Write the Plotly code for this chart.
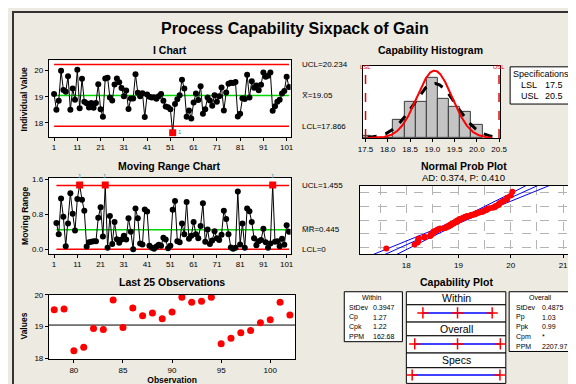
import math
from statistics import NormalDist
import plotly.graph_objects as go

# ---------------- data ----------------
gain = [19.10, 18.50, 18.84, 20.00, 19.26, 19.19, 19.78, 18.50, 19.31, 18.88,
        20.03, 18.56, 19.69, 18.81, 18.75, 18.59, 18.76, 18.58, 18.76, 19.48,
        18.52, 18.23, 19.70, 19.73, 18.97, 18.85, 19.47, 19.70, 19.55, 19.33,
        19.02, 19.24, 18.53, 18.93, 18.93, 19.86, 19.15, 19.02, 19.13, 18.22,
        19.08, 19.00, 18.97, 18.98, 18.92, 19.02, 19.10, 18.84, 18.62, 18.60,
        18.52, 17.62, 18.72, 18.90, 19.06, 19.65, 19.31, 18.23, 18.47, 18.16,
        18.78, 19.12, 18.87, 19.40, 18.35, 18.52, 18.97, 18.85, 18.65, 19.06,
        18.81, 19.02, 19.35, 18.47, 19.16, 19.50, 19.54, 19.53, 19.56, 18.24,
        18.35, 18.94, 18.91, 19.84, 18.97, 19.59, 19.34, 19.43, 19.25, 19.46,
        19.93, 19.77, 19.80, 19.93, 18.46, 18.63, 18.81, 18.88, 19.12, 19.22,
        19.77, 19.37]
ucl_i, cl_i, lcl_i = 20.234, 19.05, 17.866
ucl_mr, cl_mr, lcl_mr = 1.455, 0.445, 0.0
lsl, usl = 17.5, 20.5
mean_all = 19.05
sd_within, sd_overall = 0.3947, 0.4875
hist_centers = [17.5, 17.75, 18.0, 18.25, 18.5, 18.75, 19.0, 19.25, 19.5, 19.75, 20.0]
hist_counts = [1, 0, 0, 7, 14, 14, 23, 15, 12, 10, 5]
bin_width = 0.25
ad_text = "AD: 0.374, P: 0.410"
within_stats = [("StDev", "0.3947"), ("Cp", "1.27"), ("Cpk", "1.22"), ("PPM", "162.68")]
overall_stats = [("StDev", "0.4875"), ("Pp", "1.03"), ("Ppk", "0.99"), ("Cpm", "*"), ("PPM", "2207.97")]
i_ticks = [1, 11, 21, 31, 41, 51, 61, 71, 81, 91, 101]

# ---------------- derived ----------------
n = len(gain)
obs = list(range(1, n + 1))
mr = [abs(b - a) for a, b in zip(gain[:-1], gain[1:])]
mr_obs = obs[1:]
last_obs = obs[-25:]
last_vals = gain[-25:]

W, H = 576, 384
def px(x): return x / W
def py(y): return 1 - y / H

FONT = "Liberation Sans"
RED = "#FF0000"
GREEN = "#00D800"

fig = go.Figure()

# ---- I chart ----
fig.add_trace(go.Scatter(x=obs, y=gain, mode="lines+markers",
                         line=dict(color="black", width=1),
                         marker=dict(color="black", size=6),
                         xaxis="x", yaxis="y", showlegend=False))
ooc_i = [(o, v) for o, v in zip(obs, gain) if v > ucl_i or v < lcl_i]
fig.add_trace(go.Scatter(x=[o for o, _ in ooc_i], y=[v for _, v in ooc_i], mode="markers",
                         marker=dict(symbol="square", color=RED, size=7),
                         xaxis="x", yaxis="y", showlegend=False))

# ---- MR chart ----
fig.add_trace(go.Scatter(x=mr_obs, y=mr, mode="lines+markers",
                         line=dict(color="black", width=1),
                         marker=dict(color="black", size=6),
                         xaxis="x2", yaxis="y2", showlegend=False))
ooc_mr = [(o, v) for o, v in zip(mr_obs, mr) if v > ucl_mr]
fig.add_trace(go.Scatter(x=[o for o, _ in ooc_mr], y=[v for _, v in ooc_mr], mode="markers",
                         marker=dict(symbol="square", color=RED, size=7),
                         xaxis="x2", yaxis="y2", showlegend=False))

# ---- Last 25 ----
fig.add_trace(go.Scatter(x=last_obs, y=last_vals, mode="markers",
                         marker=dict(color=RED, size=7),
                         xaxis="x3", yaxis="y3", showlegend=False))

# ---- Histogram ----
fig.add_trace(go.Bar(x=hist_centers, y=hist_counts, width=bin_width,
                     marker=dict(color="#C4C4C4", line=dict(color="#3a3a3a", width=1)),
                     xaxis="x4", yaxis="y4", showlegend=False))
xs = [17.55 + k * 0.01 for k in range(0, 281)]
def npdf(x, m, s):
    return math.exp(-0.5 * ((x - m) / s) ** 2) / (s * math.sqrt(2 * math.pi))
fig.add_trace(go.Scatter(x=xs, y=[n * bin_width * npdf(x, mean_all, sd_overall) for x in xs],
                         mode="lines", line=dict(color="black", width=3, dash="dash"),
                         xaxis="x4", yaxis="y4", showlegend=False))
fig.add_trace(go.Scatter(x=xs, y=[n * bin_width * npdf(x, mean_all, sd_within) for x in xs],
                         mode="lines", line=dict(color=RED, width=2),
                         xaxis="x4", yaxis="y4", showlegend=False))

# ---- Normal probability plot ----
nd = NormalDist()
sorted_g = sorted(gain)
zs = [nd.inv_cdf((i + 1 - 0.3) / (n + 0.4)) for i in range(n)]
zgrid = [-3.2 + k * 0.05 for k in range(0, 129)]
mid = [mean_all + z * sd_overall for z in zgrid]
hw = [1.96 * sd_overall * math.sqrt(1.0 / n + z * z / (2.0 * n)) for z in zgrid]
for xline in ([m - h for m, h in zip(mid, hw)], mid, [m + h for m, h in zip(mid, hw)]):
    fig.add_trace(go.Scatter(x=xline, y=zgrid, mode="lines", line=dict(color="#0000FF", width=1),
                             xaxis="x5", yaxis="y5", showlegend=False))
fig.add_trace(go.Scatter(x=sorted_g, y=zs, mode="markers", marker=dict(color=RED, size=6),
                         xaxis="x5", yaxis="y5", showlegend=False))

# ---- Capability plot ----
cap_rows = [
    (3, [mean_all - 3 * sd_within, mean_all, mean_all + 3 * sd_within]),
    (2, [mean_all - 3 * sd_overall, mean_all, mean_all + 3 * sd_overall]),
    (1, [lsl, usl]),
]
for yv, xv in cap_rows:
    fig.add_trace(go.Scatter(x=[xv[0], xv[-1]], y=[yv, yv], mode="lines",
                             line=dict(color="#0000FF", width=1.5),
                             xaxis="x6", yaxis="y6", showlegend=False))
    fig.add_trace(go.Scatter(x=xv, y=[yv] * len(xv), mode="markers",
                             marker=dict(symbol="cross-thin", size=8, line=dict(color=RED, width=1.5)),
                             xaxis="x6", yaxis="y6", showlegend=False))

# ---------------- axes ----------------
base = dict(showline=True, mirror=True, linecolor="black", linewidth=1, ticks="outside",
            ticklen=3, tickcolor="black", tickfont=dict(family=FONT, size=8, color="black"),
            showgrid=False, zeroline=False)

layout_axes = dict(
    xaxis=dict(base, domain=[px(36.5), px(283.5)], range=[-1.3, 102.7], tickvals=i_ticks, anchor="y"),
    yaxis=dict(base, domain=[py(127.5), py(49.5)], range=[17.46, 20.39], tickvals=[18, 19, 20], anchor="x"),
    xaxis2=dict(base, domain=[px(36.5), px(283.5)], range=[-1.3, 102.7], tickvals=i_ticks, anchor="y2"),
    yaxis2=dict(base, domain=[py(246.7), py(169.7)], range=[-0.1, 1.625], tickvals=[0, 0.8, 1.6],
                ticktext=["0.0", "0.8", "1.6"], anchor="x2"),
    xaxis3=dict(base, domain=[px(36.7), px(288.3)], range=[77.46, 102.55], tickvals=[80, 85, 90, 95, 100],
                anchor="y3", title=dict(text="<b>Observation</b>", font=dict(family=FONT, size=8.5), standoff=2)),
    yaxis3=dict(base, domain=[py(354.3), py(289)], range=[17.98, 20.0], tickvals=[18, 19, 20], anchor="x3"),
    xaxis4=dict(base, domain=[px(357.3), px(497.3)], range=[17.44, 20.52],
                tickvals=[17.5, 18.0, 18.5, 19.0, 19.5, 20.0, 20.5],
                ticktext=["17.5", "18.0", "18.5", "19.0", "19.5", "20.0", "20.5"], anchor="y4"),
    yaxis4=dict(base, domain=[py(128.7), py(55)], range=[0, 27.6], ticks="", showticklabels=False, anchor="x4"),
    xaxis5=dict(base, domain=[px(354), px(567.7)], range=[17.11, 21.11], tickvals=[18, 19, 20, 21],
                showgrid=True, gridcolor="#B4B4B4", griddash="dash", gridwidth=1,
                minor=dict(tickvals=[17.5, 18.5, 19.5, 20.5], showgrid=True, gridcolor="#B4B4B4",
                           griddash="dash", ticks=""),
                anchor="y5"),
    yaxis5=dict(base, domain=[py(247.3), py(177.3)], range=[-2.96, 3.0], tickvals=[-2.4, -1.2, 0, 1.2, 2.4],
                ticks="", showticklabels=False, showgrid=True, gridcolor="#B4B4B4", griddash="dash",
                anchor="x5"),
    xaxis6=dict(domain=[px(401.7), px(503.3)], range=[17.3, 20.7], visible=False, anchor="y6"),
    yaxis6=dict(domain=[py(379.3), py(285.7)], range=[0.729, 3.682], visible=False, anchor="x6"),
)

# ---------------- shapes ----------------
shapes = []
def hline(xref, yref, x0, x1, y, color, width=1.5):
    shapes.append(dict(type="line", xref=xref, yref=yref, x0=x0, x1=x1, y0=y, y1=y,
                       line=dict(color=color, width=width), layer="below"))
hline("x", "y", 1, n, ucl_i, RED)
hline("x", "y", 1, n, lcl_i, RED)
hline("x", "y", 1, n, cl_i, GREEN)
hline("x2", "y2", 2, n, ucl_mr, RED)
hline("x2", "y2", 2, n, lcl_mr, RED)
hline("x2", "y2", 2, n, cl_mr, GREEN)
shapes.append(dict(type="line", xref="x3 domain", yref="y3", x0=0, x1=1, y0=cl_i, y1=cl_i,
                   line=dict(color="black", width=1), layer="below"))
for v in (lsl, usl):
    shapes.append(dict(type="line", xref="x4", yref="y4 domain", x0=v, x1=v, y0=0, y1=1,
                       line=dict(color="#E00000", width=1.5, dash="dash")))

def rect(x0, y0, x1, y1, width=1):
    shapes.append(dict(type="rect", xref="paper", yref="paper", x0=px(x0), x1=px(x1), y0=py(y1), y1=py(y0),
                       line=dict(color="black", width=width), fillcolor="white", layer="below"))
rect(507.7, 56, 570, 94)
rect(338.3, 285.7, 397.7, 336.7)
rect(506.7, 285.7, 570.7, 346.7)
cap_boxes = [285.7, 299, 316.7, 330.7, 348.3, 363.3, 379.3]
for a, b in zip(cap_boxes[:-1], cap_boxes[1:]):
    rect(401.7, a, 503.3, b)
shapes.append(dict(type="rect", xref="paper", yref="paper", x0=0, x1=1, y0=0, y1=1,
                   line=dict(color="#333333", width=2)))

# ---------------- annotations ----------------
ann = []
def txt(x, y, s, size=8, bold=False, anchor="center", color="black", angle=0, yanchor="middle"):
    ann.append(dict(x=px(x), y=py(y), xref="paper", yref="paper", text=("<b>%s</b>" % s) if bold else s,
                    showarrow=False, xanchor=anchor, yanchor=yanchor, textangle=angle,
                    font=dict(family=FONT, size=size, color=color)))

txt(288, 17, "Process Capability Sixpack of Gain", size=16, bold=True)
txt(160, 38.5, "I Chart", size=10.5, bold=True)
txt(160, 157.5, "Moving Range Chart", size=10.5, bold=True)
txt(162, 275.5, "Last 25 Observations", size=10.5, bold=True)
txt(426.7, 39, "Capability Histogram", size=10.5, bold=True)
txt(460.5, 157.5, "Normal Prob Plot", size=10.5, bold=True)
txt(460.5, 169, ad_text, size=9.5)
txt(453.3, 276, "Capability Plot", size=10.5, bold=True)
txt(11.5, 89, "Individual Value", size=8.5, bold=True, angle=-90)
txt(11.5, 208, "Moving Range", size=8.5, bold=True, angle=-90)
txt(11.5, 321, "Values", size=8.5, bold=True, angle=-90)

def limlabel(s, yref, yv):
    ann.append(dict(x=px(293), y=yv, xref="paper", yref=yref, text=s, showarrow=False,
                    xanchor="left", yanchor="middle", font=dict(family=FONT, size=8, color="black")))
limlabel("UCL=20.234", "y", ucl_i)
limlabel("X\u0305=19.05", "y", cl_i)
limlabel("LCL=17.866", "y", lcl_i)
limlabel("UCL=1.455", "y2", ucl_mr)
limlabel("M\u0305R\u0305=0.445", "y2", cl_mr)
limlabel("LCL=0", "y2", lcl_mr)

for o, v in ooc_mr:
    ann.append(dict(x=o, y=v, xref="x2", yref="y2", text="1", showarrow=False, yshift=9,
                    font=dict(family=FONT, size=6, color="#3090B0")))
for o, v in ooc_i:
    ann.append(dict(x=o, y=v, xref="x", yref="y", text="1", showarrow=False, xshift=7, yshift=1,
                    font=dict(family=FONT, size=6, color="#3090B0")))

for v, s in ((lsl, "LSL"), (usl, "USL")):
    ann.append(dict(x=v, y=py(51), xref="x4", yref="paper", text=s, showarrow=False,
                    font=dict(family=FONT, size=6, color="#E00000")))

txt(538.8, 63, "Specifications", size=9)
txt(516.5, 74.5, "LSL", size=9, anchor="left")
txt(541.5, 74.5, "17.5", size=9, anchor="left")
txt(516.5, 86, "USL", size=9, anchor="left")
txt(541.5, 86, "20.5", size=9, anchor="left")

txt(367, 292, "Within", size=7)
for k, (lab, val) in enumerate(within_stats):
    yy = 301.5 + 10 * k
    txt(341.5, yy, lab, size=7, anchor="left")
    txt(366, yy, val, size=7, anchor="left")
txt(538.6, 292, "Overall", size=7)
for k, (lab, val) in enumerate(overall_stats):
    yy = 301.5 + 10 * k
    txt(511.5, yy, lab, size=7, anchor="left")
    txt(538, yy, val, size=7, anchor="left")

txt(453.3, 292.3, "Within", size=10.5)
txt(453.3, 323.8, "Overall", size=10.5)
txt(453.3, 355.8, "Specs", size=10.5)

fig.update_layout(
    width=W, height=H, margin=dict(l=0, r=0, t=0, b=0),
    paper_bgcolor="#EDEAE1", plot_bgcolor="white",
    font=dict(family=FONT, color="black"),
    shapes=shapes, annotations=ann, showlegend=False, bargap=0,
    **layout_axes,
)

fig.write_html("out.html")
